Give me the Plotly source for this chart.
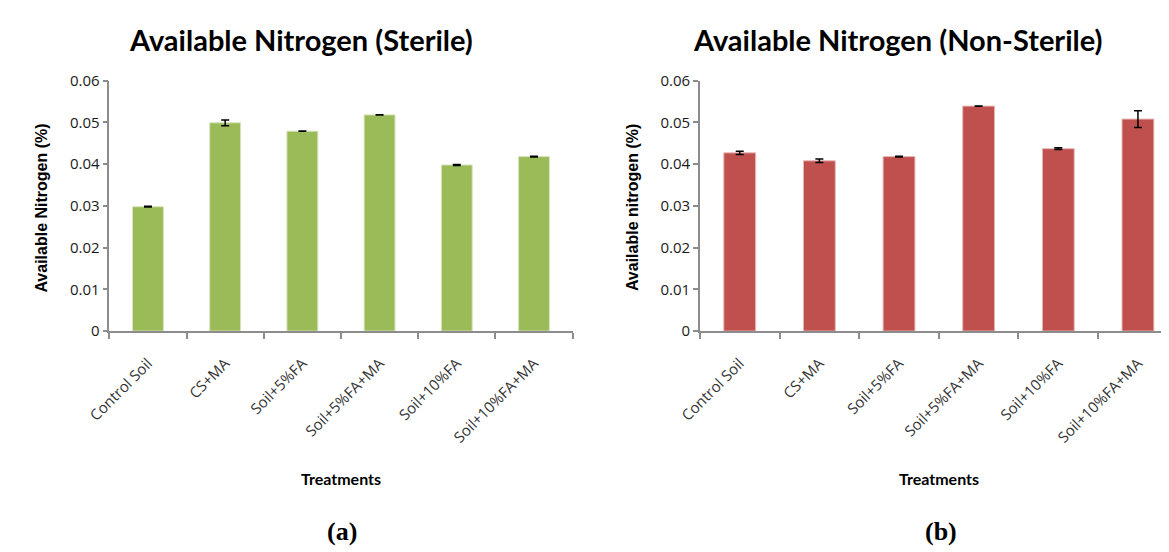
import plotly.graph_objects as go

categories = ["Control Soil", "CS+MA", "Soil+5%FA", "Soil+5%FA+MA", "Soil+10%FA", "Soil+10%FA+MA"]
sterile_values = [0.0298, 0.0499, 0.0479, 0.0518, 0.0398, 0.0418]
sterile_errors = [0.0001, 0.0007, 0.00005, 0.00005, 0.0001, 0.0001]
nonsterile_values = [0.0427, 0.0408, 0.0418, 0.0539, 0.0437, 0.0508]
nonsterile_errors = [0.0004, 0.0004, 0.0001, 0.00005, 0.0002, 0.002]
y_ticks = [0, 0.01, 0.02, 0.03, 0.04, 0.05, 0.06]
y_tick_text = ["0", "0.01", "0.02", "0.03", "0.04", "0.05", "0.06"]

# page body has an 8px default margin; figure is sized/offset to fit the 1169x552 window
OFF = 8
W, H = 1169 - OFF, 552 - OFF


def px(tx):
    return (tx - OFF) / W


def py(ty):
    return 1 - (ty - OFF) / H


green = "#9BBB59"
red = "#C0504D"
axis_grey = "#8C8C8C"
tick_font = dict(family="Open Sans, sans-serif", size=15, color="#1a1a1a")

fig = go.Figure()
fig.add_trace(go.Bar(
    x=categories, y=sterile_values, xaxis="x", yaxis="y",
    marker=dict(color=green, line=dict(color="#D7E4BD", width=1)),
    width=0.4,
    error_y=dict(type="data", array=sterile_errors, color="black", thickness=1.5, width=4),
    showlegend=False,
))
fig.add_trace(go.Bar(
    x=categories, y=nonsterile_values, xaxis="x2", yaxis="y2",
    marker=dict(color=red, line=dict(color="#E6B9B8", width=1)),
    width=0.4,
    error_y=dict(type="data", array=nonsterile_errors, color="black", thickness=1.5, width=4),
    showlegend=False,
))

xcommon = dict(
    type="category", showline=True, linecolor=axis_grey, linewidth=1.5,
    ticks="outside", tickson="boundaries", ticklen=6, tickcolor=axis_grey, tickwidth=1.5,
    tickangle=-45, tickfont=dict(family="Open Sans, sans-serif", size=15, color="#333"),
    ticklabelstandoff=16,
    showgrid=False, zeroline=False,
)
ycommon = dict(
    range=[0, 0.06], tickvals=y_ticks, ticktext=y_tick_text,
    showline=True, linecolor=axis_grey, linewidth=1.5,
    ticks="outside", ticklen=5, tickcolor=axis_grey, tickwidth=1.5,
    tickfont=tick_font,
    showgrid=False, zeroline=False,
)

fig.update_layout(
    width=W, height=H,
    margin=dict(l=0, r=0, t=0, b=0),
    paper_bgcolor="white", plot_bgcolor="white",
    xaxis=dict(domain=[px(87), px(560)], range=[-0.5, 5.5], anchor="y", **xcommon),
    yaxis=dict(domain=[py(332), py(72)], anchor="x", **ycommon),
    xaxis2=dict(domain=[px(690), 1.0], range=[-0.5, 5.39], anchor="y2", **xcommon),
    yaxis2=dict(domain=[py(332), py(72)], anchor="x2", **ycommon),
)


def ann(text, x, y, size, family="Open Sans, sans-serif", angle=0, color="black"):
    fig.add_annotation(
        text=text, x=px(x), y=py(y), xref="paper", yref="paper",
        showarrow=False, textangle=angle, xanchor="center", yanchor="middle",
        font=dict(family=family, size=size, color=color),
    )


ann("<b>Available Nitrogen (Sterile)</b>", 283, 29, 29, family="Lato, sans-serif")
ann("<b>Available Nitrogen (Non-Sterile)</b>", 892, 29, 29, family="Lato, sans-serif")
ann("<b>Available Nitrogen (%)</b>", 18, 204, 16, family="Liberation Sans, Arial, sans-serif", angle=-90)
ann("<b>Available nitrogen (%)</b>", 621, 204, 16, family="Liberation Sans, Arial, sans-serif", angle=-90)
ann("<b>Treatments</b>", 324, 485, 16, family="Lato, sans-serif")
ann("<b>Treatments</b>", 934, 485, 16, family="Lato, sans-serif")
ann("<b>(a)</b>", 325, 540, 26, family="Liberation Serif, Times New Roman, serif")
ann("<b>(b)</b>", 936, 540, 26, family="Liberation Serif, Times New Roman, serif")

fig.write_html("out.html")
